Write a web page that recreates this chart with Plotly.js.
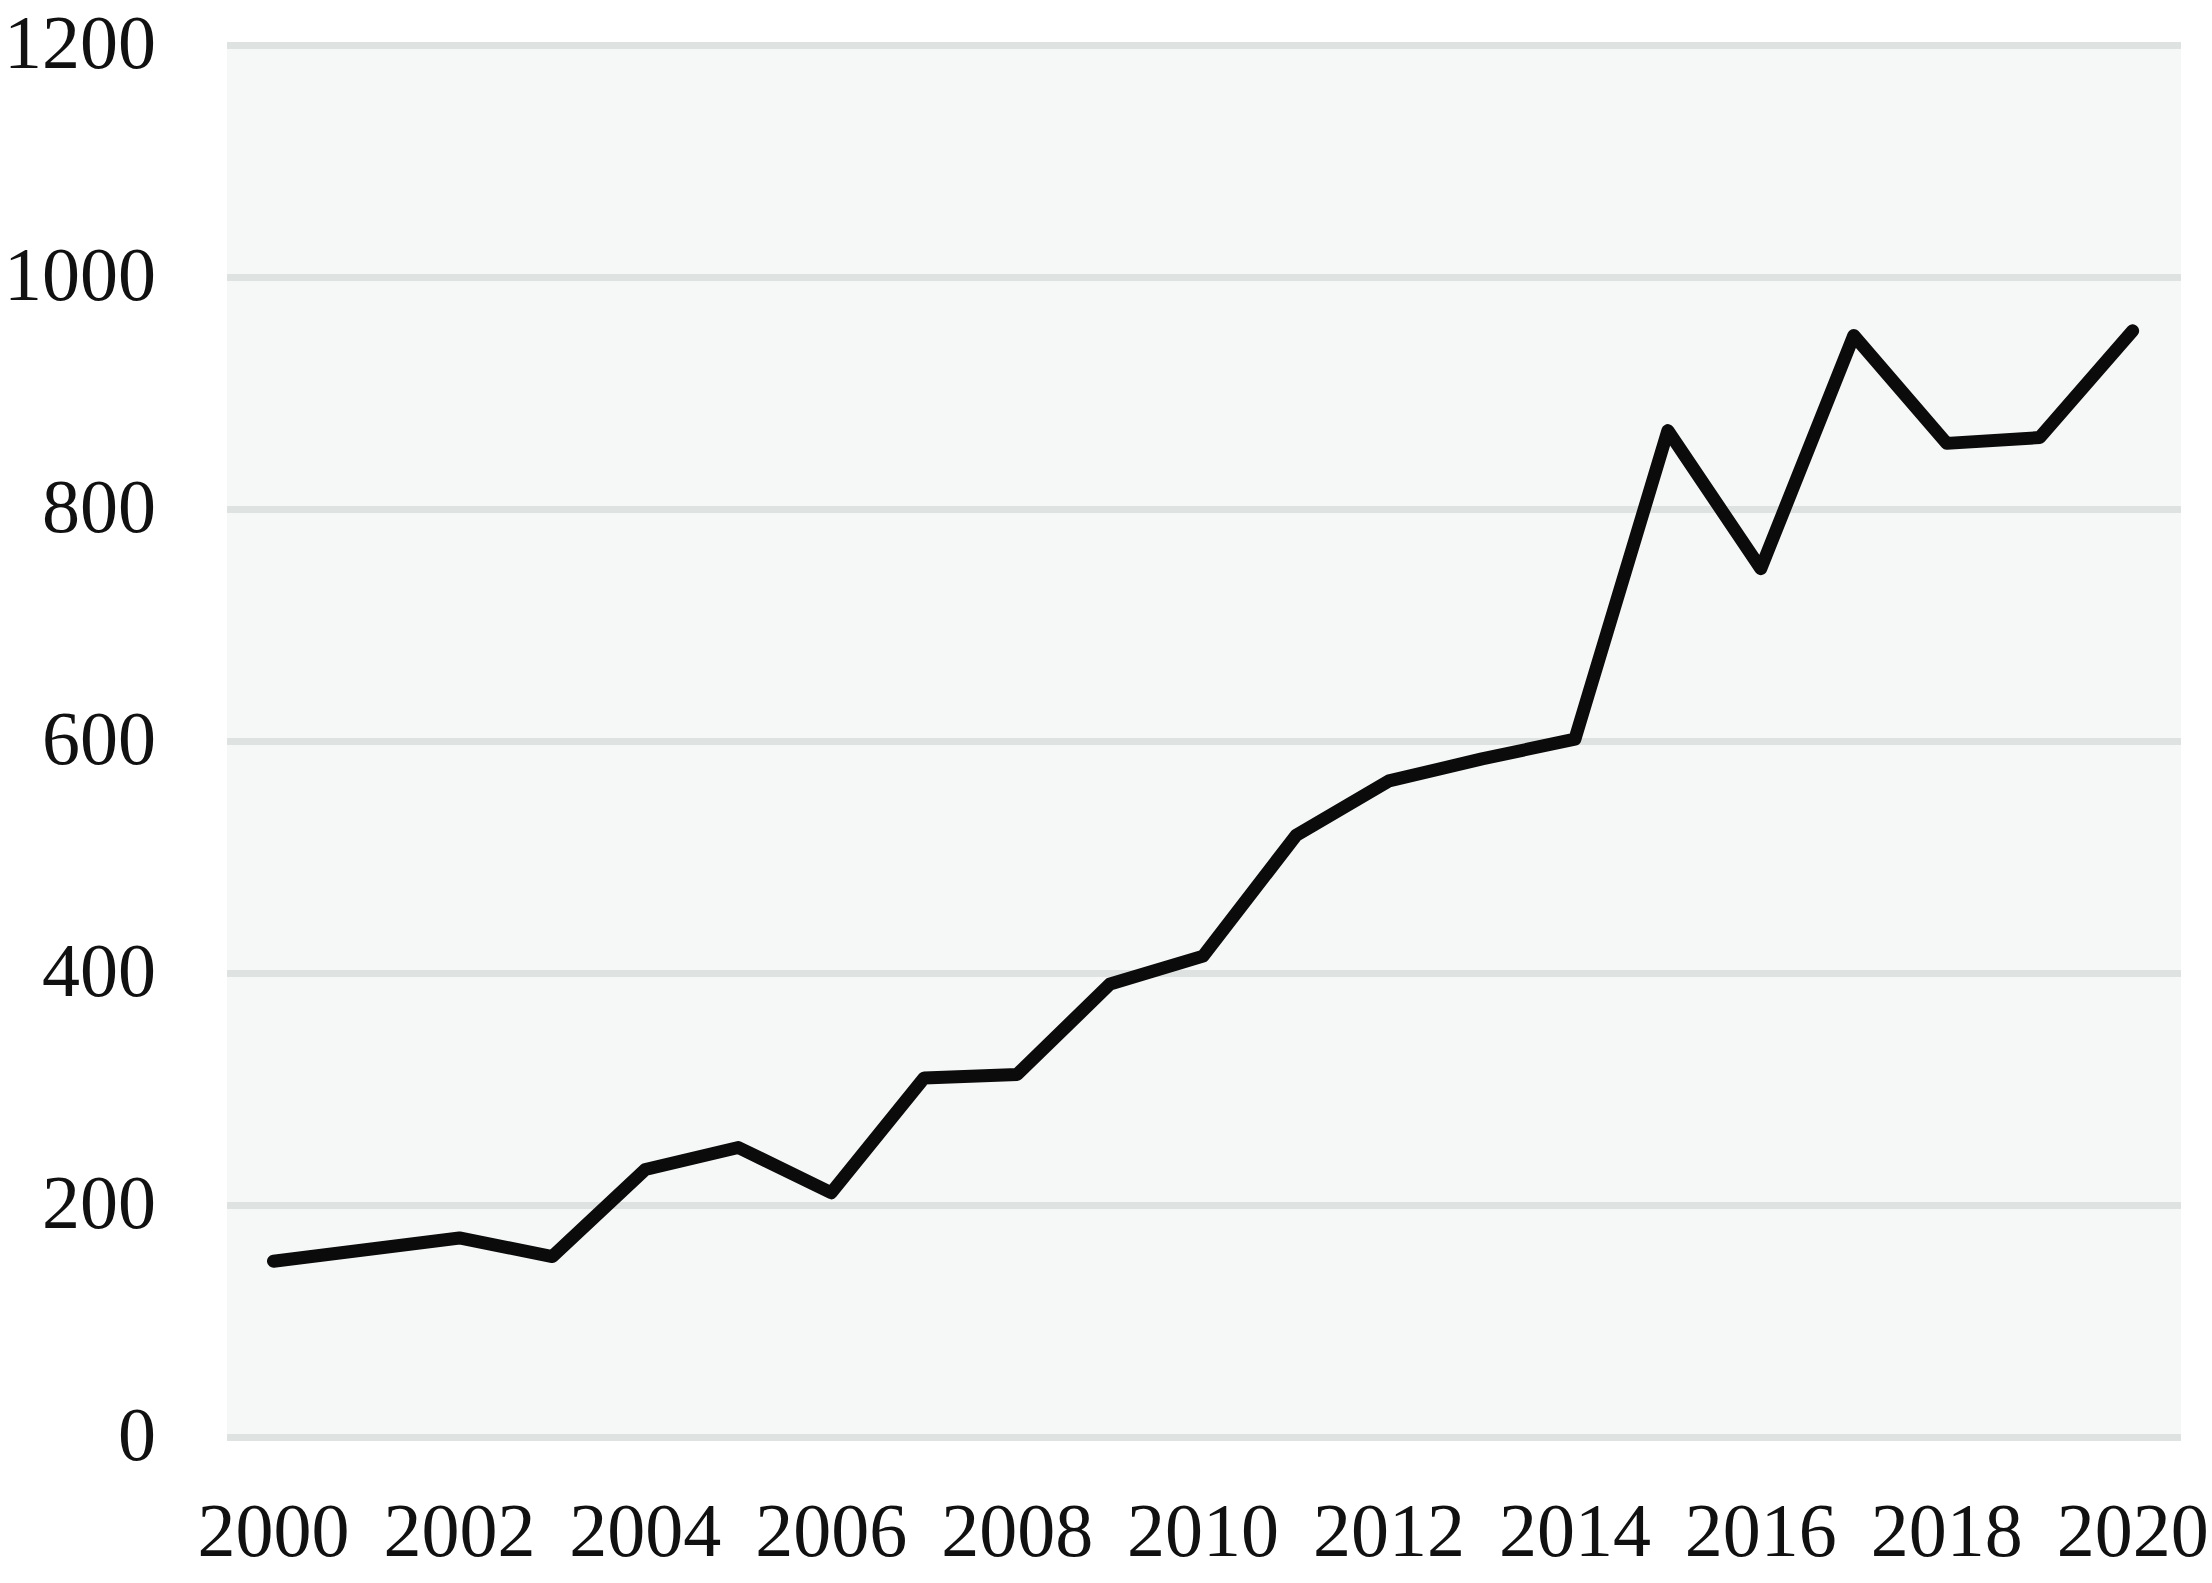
<!DOCTYPE html>
<html>
<head>
<meta charset="utf-8">
<script src="https://cdn.plot.ly/plotly-3.0.1.min.js"></script>
<style>
html,body{margin:0;padding:0;background:#fff;}
#chart{width:2212px;height:1583px;}
.scatterlayer path.js-line{stroke-linecap:round !important;stroke-linejoin:round !important;}
</style>
</head>
<body>
<div id="chart"></div>
<script>
const years = [2000,2001,2002,2003,2004,2005,2006,2007,2008,2009,2010,2011,2012,2013,2014,2015,2016,2017,2018,2019,2020];
const values = [152,162,172,156,231,250,211,310,313,391,415,519,566,585,602,868,749,950,857,862,954];
const xTicks = [2000,2002,2004,2006,2008,2010,2012,2014,2016,2018,2020];
const xTickLabels = xTicks.map(String);
const yTicks = [0,200,400,600,800,1000,1200];
const yTickLabels = yTicks.map(String);

const trace = {
  x: years, y: values, type: 'scatter', mode: 'lines',
  line: {color: '#0b0b0b', width: 13},
  hoverinfo: 'skip'
};
const font = {family: '"Liberation Serif", "Times New Roman", serif', size: 76, color: '#111111'};
const layout = {
  width: 2212, height: 1583,
  margin: {l: 227, r: 31, t: 42, b: 142, pad: 0},
  paper_bgcolor: '#ffffff',
  plot_bgcolor: '#f6f8f7',
  showlegend: false,
  font: font,
  xaxis: {
    range: [1999.5, 2020.52],
    tickvals: xTicks, ticktext: xTickLabels,
    showgrid: false, zeroline: false, showline: false, ticks: '',
    ticklabelstandoff: 38,
    ticklabeloverflow: 'allow',
    tickfont: font
  },
  yaxis: {
    range: [-3, 1203],
    tickvals: yTicks, ticktext: yTickLabels,
    showgrid: true, gridcolor: '#dee3e2', gridwidth: 7,
    zeroline: false, showline: false, ticks: '',
    ticklabelstandoff: 70,
    ticklabelshift: -4,
    ticklabeloverflow: 'allow',
    tickfont: font
  }
};
Plotly.newPlot('chart', [trace], layout, {displayModeBar: false, staticPlot: true});
</script>
</body>
</html>
